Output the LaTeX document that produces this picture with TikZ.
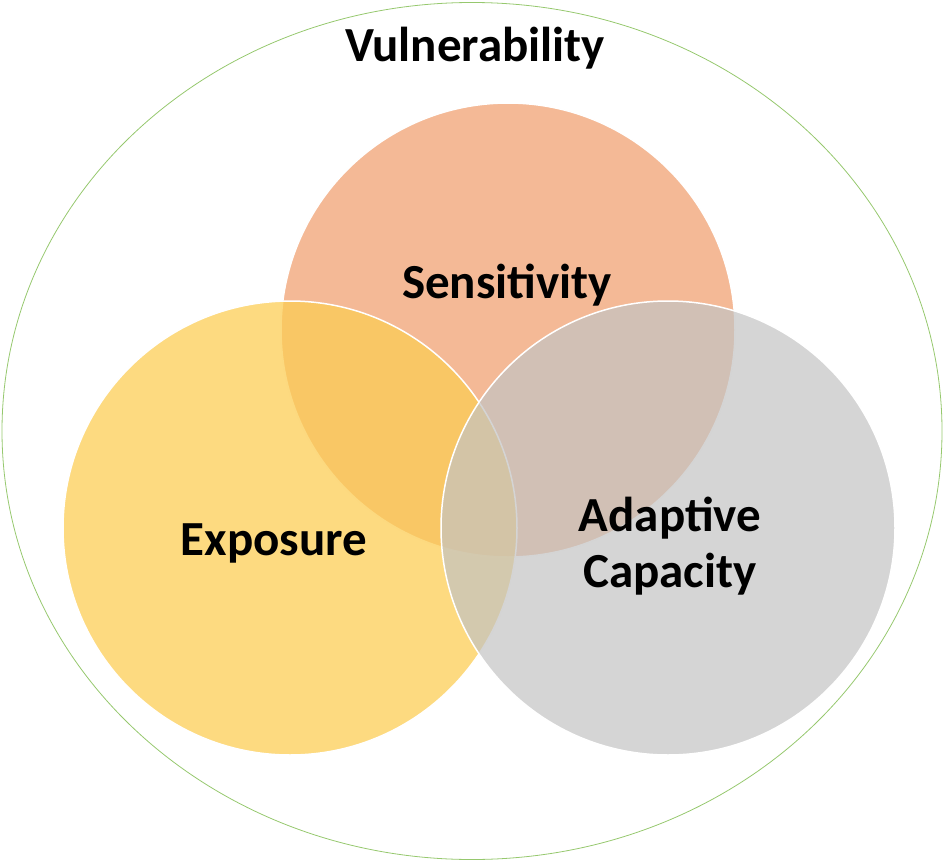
\documentclass[tikz,border=0pt]{standalone}
\usetikzlibrary{shapes.geometric}
\usepackage{fontspec}
\setmainfont{Carlito}
\begin{document}
\begin{tikzpicture}[x=1pt,y=-1pt,
  circ/.style={draw=white,line width=1.5pt},
  lbl/.style={font=\fontsize{49}{56}\selectfont\bfseries,align=center,text=black}]
\useasboundingbox (0,0) rectangle (945,862);
\node[draw={rgb,255:red,150;green,200;blue,110},line width=0.8pt,ellipse,minimum width=940,minimum height=857,inner sep=0] (outer) at (472,431) {};
\draw[circ,fill={rgb,255:red,244;green,185;blue,150}] (508,330) circle (227);
\node (sc) at (508,330) {};
\draw[circ,fill={rgb,255:red,252;green,205;blue,85},fill opacity=0.75] (290,528) circle (227);
\node (ec) at (290,528) {};
\draw[circ,fill={rgb,255:red,195;green,195;blue,195},fill opacity=0.7] (668,528) circle (227);
\node (ac) at (668,528) {};
\node[lbl] (vul) at (475,48) {Vulnerability};
\node[lbl] (sen) at (507,285) {Sensitivity};
\node[lbl] (exp) at (274,543) {Exposure};
\node[lbl] (ada) at (670,546) {Adaptive\\Capacity};
\end{tikzpicture}
\end{document}
